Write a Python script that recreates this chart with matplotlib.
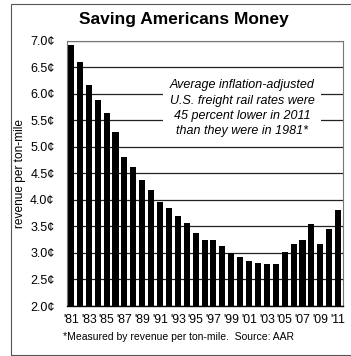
import matplotlib.pyplot as plt
from matplotlib.patches import Rectangle

years = list(range(1981, 2012))
rates = [6.91, 6.59, 6.17, 5.88, 5.63, 5.28, 4.81, 4.62, 4.38, 4.19,
         3.96, 3.84, 3.69, 3.56, 3.37, 3.24, 3.25, 3.13, 3.00, 2.92,
         2.84, 2.81, 2.79, 2.80, 3.01, 3.16, 3.24, 3.54, 3.16, 3.45, 3.81]
yticks = [2.0, 2.5, 3.0, 3.5, 4.0, 4.5, 5.0, 5.5, 6.0, 6.5, 7.0]

plt.rcParams['font.family'] = ['Liberation Sans', 'DejaVu Sans']

fig = plt.figure(figsize=(3.51, 3.56), dpi=100)
ax = fig.add_axes([0.1909, 0.1404, 0.7863, 0.7458])

x = list(range(len(years)))
ax.bar(x, rates, width=0.68, color='black', zorder=2)
ax.set_ylim(2.0, 7.0)
ax.set_xlim(-0.45, len(years) - 0.45)

ax.set_yticks(yticks)
ax.set_yticklabels([f"{v:.1f}¢" for v in yticks], fontsize=9)
ax.set_xticks(x[::2])
ax.set_xticklabels(["'" + str(y)[2:] for y in years[::2]], fontsize=8.8)
ax.tick_params(length=0)
ax.tick_params(axis='y', pad=9)
ax.tick_params(axis='x', pad=6)

ax.grid(axis='y', color='#222222', linewidth=0.9, zorder=1)
for s in ['left', 'top', 'right']:
    ax.spines[s].set_color('#777777')
    ax.spines[s].set_linewidth(0.8)
ax.spines['bottom'].set_color('black')
ax.spines['bottom'].set_linewidth(1.0)

ax.text(0.634, 0.745,
        "Average inflation-adjusted\nU.S. freight rail rates were\n"
        "45 percent lower in 2011\nthan they were in 1981*",
        transform=ax.transAxes, ha='center', va='center', style='italic',
        fontsize=9, linespacing=1.35, zorder=3,
        bbox=dict(facecolor='white', edgecolor='none', pad=5))

fig.text(0.057, 0.512, "revenue per ton-mile", rotation=90,
         ha='center', va='center', fontsize=8.6)
fig.text(0.523, 0.944, "Saving Americans Money", ha='center', va='center',
         fontsize=12.5, fontweight='bold')
fig.text(0.18, 0.053, "*Measured by revenue per ton-mile.  Source: AAR",
         ha='left', va='center', fontsize=7.5)

fig.add_artist(Rectangle((0.031, 0.003), 1.2, 0.986, transform=fig.transFigure,
                         fill=False, edgecolor='#555555', linewidth=0.8))

fig.savefig("out.png", dpi=100)
